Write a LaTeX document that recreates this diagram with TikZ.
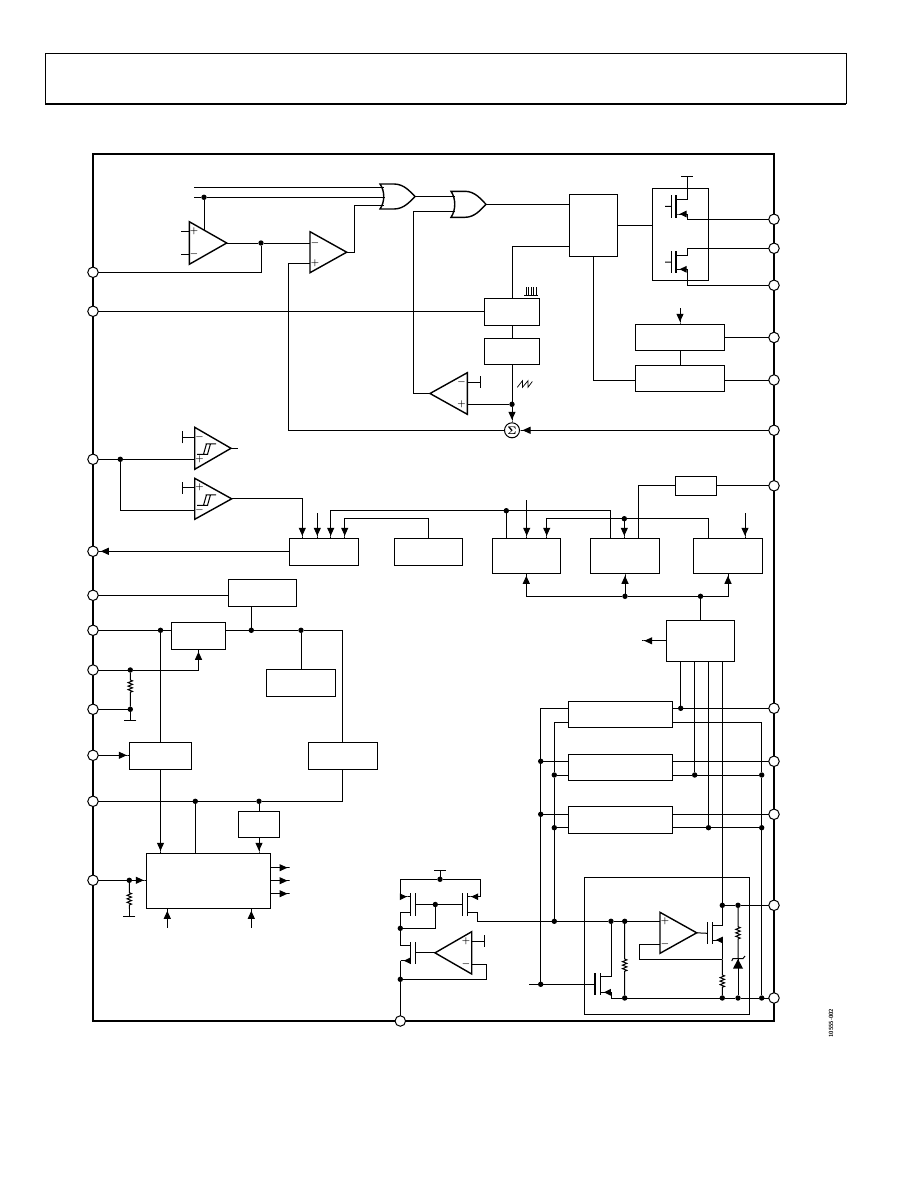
\documentclass[tikz,border=0pt]{standalone}
\usepackage{amsmath}
\usetikzlibrary{arrows.meta,decorations.pathmorphing}
\tikzset{
  wireline/.style={line width=1pt},
  frameline/.style={line width=2.2pt},
  arrowin/.style={-{Triangle[length=8pt,width=7pt,sep=0pt]Rectangle[length=2.5pt,width=1pt]}},
  fetarrow/.style={-{Triangle[length=7pt,width=6.5pt,sep=0pt]Rectangle[length=3.5pt,width=1pt]}},
  railend/.style={-{Bar[width=12pt,line width=1pt]}},
  blockbox/.style={draw,rectangle,line width=1.1pt,inner sep=0pt,outer sep=0pt},
  pinnode/.style={draw,circle,fill=white,line width=1pt,minimum size=10.5pt,inner sep=0pt,outer sep=0pt},
  dotnode/.style={circle,fill=black,minimum size=5.4pt,inner sep=0pt,outer sep=0pt},
  ampline/.style={line width=1.4pt,line join=miter},
  fetbar/.style={line width=1.1pt},
  orline/.style={line width=1.4pt},
  signnode/.style={inner sep=0pt,font=\fontsize{9}{9}\selectfont\boldmath},
}
\newcommand{\pBlock}[5]{\node[blockbox,anchor=north west,minimum width=#4pt,minimum height=#5pt] (#1) at (#2,#3) {};}
\newcommand{\pAmp}[8]{\draw[ampline] (#2,#3) -- (#2,#4) -- (#5,{(#3+#4)/2}) -- cycle;
\coordinate (#1O) at (#5,{(#3+#4)/2});
\coordinate (#1P) at (#2,#7);
\coordinate (#1M) at (#2,#8);
\node[signnode] (#1plus) at (#6,#7) {$+$};
\node[signnode] (#1minus) at (#6,#8) {$-$};}
\newcommand{\pFet}[7]{\draw[fetbar] (#2,#4) -- (#2,#5) (#3,#4) -- (#3,#5);
\coordinate (#1G) at (#2,{(#4+#5)/2});
\coordinate (#1D) at (#3,#6);
\coordinate (#1S) at (#3,#7);}
\newcommand{\pOr}[5]{\draw[orline] (#2,#3) .. controls ({#2+5},{#3+7}) and ({#2+5},{#4-7}) .. (#2,#4) -- ({#2+14},#4) .. controls ({#2+24},#4) and ({#5-5},{(#3+#4)/2+5}) .. (#5,{(#3+#4)/2}) .. controls ({#5-5},{(#3+#4)/2-5}) and ({#2+24},#3) .. ({#2+14},#3) -- cycle;
\coordinate (#1O) at (#5,{(#3+#4)/2});}
\newcommand{\pHyst}[2]{\draw[wireline] (#1,#2) -- ({#1+11},#2) ({#1+6.5},#2) -- ({#1+9.5},{#2-10.5}) ({#1+10.5},#2) -- ({#1+13.5},{#2-10.5}) ({#1+8.5},{#2-10.5}) -- ({#1+19},{#2-10.5});}
\newcommand{\pResWire}[4]{\draw[wireline] (#1) -- (#1 |- 0,#3) decorate[decoration={zigzag,segment length=3.5pt,amplitude=2.2pt}] {-- (#1 |- 0,#4)} -- (#2);}
\begin{document}
\begin{tikzpicture}[x=1pt,y=-1pt]
\useasboundingbox (0,0) rectangle (918,1188);
\draw[wireline] (45,104) -- (45,54) -- (846,54) -- (846,104);
\draw[frameline] (45,104) -- (846,104);
\draw[frameline] (93,154) rectangle (774,1021);
\node[pinnode] (pinAmp) at (93,272.3) {};
\node[pinnode] (pinRamp) at (93,311.3) {};
\node[pinnode] (pinHyst) at (93,459.3) {};
\node[pinnode] (pinFlag) at (93,551.3) {};
\node[pinnode] (pinRef) at (93,595.3) {};
\node[pinnode] (pinIn) at (93,630.3) {};
\node[pinnode] (pinEn) at (93,670) {};
\node[pinnode] (pinGa) at (93,709.3) {};
\node[pinnode] (pinSync) at (93,755.3) {};
\node[pinnode] (pinGnd) at (93,801.3) {};
\node[pinnode] (pinMode) at (93,880.3) {};
\node[pinnode] (pinVin) at (774,219.3) {};
\node[pinnode] (pinSw) at (774,248.3) {};
\node[pinnode] (pinPgnd) at (774,285.3) {};
\node[pinnode] (pinTop) at (774,337.5) {};
\node[pinnode] (pinSoft) at (774,380) {};
\node[pinnode] (pinSense) at (774,430.3) {};
\node[pinnode] (pinRes) at (774,485.8) {};
\node[pinnode] (pinLdoA) at (774,708.3) {};
\node[pinnode] (pinLdoB) at (774,761.3) {};
\node[pinnode] (pinLdoC) at (774,814.3) {};
\node[pinnode] (pinLdoOut) at (774,905.3) {};
\node[pinnode] (pinLdoGnd) at (774,998) {};
\node[pinnode] (pinBot) at (400.3,1021) {};
\pBlock{driverBox}{569.3}{194.3}{48.4}{62.4}
\pBlock{fetBox}{652.3}{188.3}{56.4}{92}
\pBlock{pulseBox}{484.5}{298.3}{55}{27}
\pBlock{clockBox}{484.5}{338.3}{55}{26}
\pBlock{softBox}{635.3}{324.3}{89.4}{26}
\pBlock{latchBox}{635.3}{365.3}{89.4}{26}
\pBlock{logicBox}{289.3}{538.3}{69}{27}
\pBlock{refBox}{394.3}{538.3}{68}{27}
\pBlock{chanC}{492.3}{538.3}{68}{35}
\pBlock{chanD}{590.3}{538.3}{69.4}{35}
\pBlock{chanE}{693.3}{538.3}{69.4}{35}
\pBlock{resBox}{675.3}{476.3}{41.4}{19}
\pBlock{seqBox}{666.3}{620.3}{68.4}{41}
\pBlock{regOne}{568.3}{701.3}{104.4}{26}
\pBlock{regTwo}{568.3}{754.3}{104.4}{26}
\pBlock{regThree}{568.3}{806.3}{104.4}{27}
\pBlock{ldoBox}{584.3}{877.3}{165.4}{137}
\pBlock{biasBox}{228.3}{579.3}{68}{27}
\pBlock{switchBox}{171.3}{622.3}{54.4}{27}
\pBlock{tempBox}{266.3}{669.3}{69.4}{27}
\pBlock{enBox}{129.3}{742.3}{62.4}{27}
\pBlock{auxBox}{308.3}{742.3}{69}{27}
\pBlock{smallBox}{238.3}{811.3}{41.4}{26}
\pBlock{ctrlBox}{146.3}{853.3}{124.4}{55}
\pOr{orA}{380}{184}{209}{415}
\pOr{orB}{451}{191.3}{217.3}{486}
\pAmp{ampA}{189.3}{221.7}{264.3}{226.7}{194}{231.7}{254.3}
\pAmp{ampB}{310}{231.7}{272.7}{346.7}{315}{263.5}{243}
\pAmp{ampC}{467.3}{372.7}{414.3}{430}{461.5}{404.3}{382.3}
\pAmp{ampD}{194.7}{427.3}{469.3}{231}{199.5}{459.3}{437.3}
\pAmp{ampE}{194.7}{478.3}{519.3}{231.7}{199.5}{487.7}{510.3}
\pAmp{ampF}{660}{912.3}{953.3}{696.7}{665}{921.3}{944.3}
\pAmp{ampG}{471.7}{931.7}{974}{435}{466}{941.3}{964.3}
\pHyst{197}{454.3}
\pHyst{197}{505.3}
\pFet{hiFet}{671.7}{676}{195}{217.7}{199.3}{214}
\pFet{loFet}{671.7}{676}{251}{273.3}{255}{269.3}
\pFet{ldoFet}{595}{600.3}{973.3}{995.3}{976.7}{992.3}
\pFet{passFet}{707.3}{712.3}{922.3}{944.3}{925}{940}
\pFet{mirL}{415.3}{410.3}{893.3}{915.7}{912.3}{896.7}
\pFet{mirR}{462.3}{467.7}{893.3}{915.7}{912.3}{896.7}
\pFet{errFet}{415.3}{410.3}{942}{963.7}{945.3}{960.7}
\node[draw,circle,fill=white,line width=1pt,minimum size=15pt,inner sep=0pt,font=\fontsize{11}{11}\selectfont\boldmath] (sumNode) at (512,430.3) {$\Sigma$};
\node[dotnode] (dotBusB) at (204,197.3) {};
\node[dotnode] (dotAmpA) at (261,243) {};
\node[dotnode] (dotRamp) at (512,404.3) {};
\node[dotnode] (dotHyst) at (120.3,459.3) {};
\node[dotnode] (dotBusC) at (506.3,510.7) {};
\node[dotnode] (dotBusD) at (624.3,518.7) {};
\node[dotnode] (dotChan) at (625,596.3) {};
\node[dotnode] (dotSeq) at (700.5,596.3) {};
\node[dotnode] (dotRegA) at (680.7,708.3) {};
\node[dotnode] (dotRegB) at (694.7,775) {};
\node[dotnode] (dotRegC) at (708.5,827.7) {};
\node[dotnode] (dotRtA) at (761.7,775) {};
\node[dotnode] (dotRtB) at (761.7,827.7) {};
\node[dotnode] (dotRtC) at (761.7,998) {};
\node[dotnode] (dotLa) at (540.7,761.3) {};
\node[dotnode] (dotLb) at (540.7,814.3) {};
\node[dotnode] (dotLc) at (540.7,984.3) {};
\node[dotnode] (dotMa) at (554.3,775) {};
\node[dotnode] (dotMb) at (554.3,827.7) {};
\node[dotnode] (dotMc) at (554.3,921.3) {};
\node[dotnode] (dotNa) at (611,921.3) {};
\node[dotnode] (dotNb) at (624.7,921.3) {};
\node[dotnode] (dotOa) at (624.7,998) {};
\node[dotnode] (dotOb) at (722.3,998) {};
\node[dotnode] (dotOc) at (738,998) {};
\node[dotnode] (dotOut) at (722.3,905.3) {};
\node[dotnode] (dotZen) at (738,905.3) {};
\node[dotnode] (dotIn) at (160.5,630.3) {};
\node[dotnode] (dotSw) at (251.3,630.3) {};
\node[dotnode] (dotTemp) at (301,630.3) {};
\node[dotnode] (dotEn) at (130.3,670) {};
\node[dotnode] (dotGa) at (130.3,709.3) {};
\node[dotnode] (dotGb) at (195.3,801.3) {};
\node[dotnode] (dotGc) at (259,801.3) {};
\node[dotnode] (dotMode) at (129.3,880.3) {};
\node[dotnode] (dotVdd) at (440,879.3) {};
\node[dotnode] (dotMir) at (435.3,904.5) {};
\node[dotnode] (dotTie) at (400.3,928.3) {};
\node[dotnode] (dotFb) at (400.3,979.3) {};
\coordinate (busA) at (194,187.3);
\coordinate (busB) at (194,197.3);
\coordinate (orAa) at (384,187.3);
\coordinate (orAb) at (384.5,197.3);
\coordinate (orAc) at (384,205.3);
\coordinate (orBa) at (455,196.5);
\coordinate (orBb) at (455,211.7);
\coordinate (ampAtap) at (204,230);
\coordinate (ampAstubP) at (181,231.7);
\coordinate (ampAstubM) at (181,254.3);
\coordinate (ampCrail) at (481,382.3);
\coordinate (ampDrail) at (181.7,437.3);
\coordinate (ampErail) at (181.7,487.7);
\coordinate (ampGrail) at (485.3,941.3);
\coordinate (ampDout) at (237.7,448.3);
\coordinate (hiStub) at (665,206.3);
\coordinate (loStub) at (665,262.2);
\coordinate (hiRail) at (687.3,176);
\coordinate (hiCorner) at (687.3,214);
\coordinate (loCorner) at (687.3,269.3);
\coordinate (softIn) at (680,308.3);
\coordinate (logicA) at (302.3,538.3);
\coordinate (logicBtop) at (317.3,513.3);
\coordinate (logicB) at (317.3,538.3);
\coordinate (logicC) at (330.7,538.3);
\coordinate (logicD) at (344.7,538.3);
\coordinate (chanCa) at (506.3,538.3);
\coordinate (chanCbtop) at (526.7,500);
\coordinate (chanCb) at (526.7,538.3);
\coordinate (chanCc) at (546.7,538.3);
\coordinate (chanDa) at (610.7,538.3);
\coordinate (chanDb) at (624.3,538.3);
\coordinate (chanDc) at (638.3,538.3);
\coordinate (chanEa) at (708.7,538.3);
\coordinate (chanEbtop) at (745,513.3);
\coordinate (chanEb) at (745,538.3);
\coordinate (seqOut) at (641.7,640.8);
\coordinate (seqA) at (680.7,661.3);
\coordinate (seqB) at (694.7,661.3);
\coordinate (seqC) at (708.5,661.3);
\coordinate (seqD) at (722.3,661.3);
\coordinate (regOneA) at (672.7,708.3);
\coordinate (regOneB) at (672.7,722.3);
\coordinate (regOneC) at (568.3,708.3);
\coordinate (regOneD) at (568.3,722.3);
\coordinate (regTwoB) at (672.7,775);
\coordinate (regThreeB) at (672.7,827.7);
\coordinate (ldoStub) at (529,984.3);
\coordinate (ldoCorner) at (611,992.3);
\coordinate (passCorner) at (722.3,940);
\coordinate (passTap) at (722.3,959.3);
\coordinate (zenTop) at (738,958.5);
\coordinate (ctrlA) at (160.5,853.3);
\coordinate (ctrlB) at (195.3,853.3);
\coordinate (railGa) at (130.3,721.3);
\coordinate (resModeEnd) at (129.3,909);
\coordinate (railMode) at (129.3,917.3);
\coordinate (ctrlOutA) at (290,867.7);
\coordinate (ctrlOutB) at (290,880.7);
\coordinate (ctrlOutC) at (290,893.7);
\coordinate (ctrlInA) at (167.3,927.7);
\coordinate (ctrlInAend) at (167.3,908.3);
\coordinate (ctrlInB) at (251.3,927.7);
\coordinate (ctrlInBend) at (251.3,908.3);
\coordinate (railVdd) at (440,870.3);
\coordinate (mirLcorner) at (400.3,896.7);
\coordinate (mirRcorner) at (480.7,896.7);
\coordinate (errCorner) at (400.3,960.7);
\draw[wireline] (busA) -- (orAa);
\draw[wireline] (busB) -- (dotBusB) -- (orAb);
\draw[wireline] (dotBusB) -- (ampAtap);
\draw[wireline] (ampAP) -- (ampAstubP);
\draw[wireline] (ampAM) -- (ampAstubM);
\draw[wireline] (ampAO) -- (dotAmpA) -- (ampBM);
\draw[wireline] (dotAmpA) |- (pinAmp);
\draw[wireline] (ampBO) -- ++(7.6,0) |- (orAc);
\draw[wireline] (ampBP) -- ++(-21.7,0) |- (sumNode);
\draw[wireline] (orAO) -- (orBa);
\draw[wireline] (orBb) -- ++(-41.3,0) |- (ampCO);
\draw[wireline] (orBO) -- (orBO -| driverBox.west);
\draw[wireline] (pinRamp) -- (pinRamp -| pulseBox.west);
\draw[wireline] (pulseBox.south) -- (clockBox.north);
\draw[wireline] (clockBox.south) -- (dotRamp);
\draw[wireline,arrowin] (dotRamp) -- (sumNode);
\draw[wireline,arrowin] (pinSense) -- (sumNode);
\draw[wireline] (ampCP) -- (dotRamp);
\draw[wireline,railend] (ampCM) -- (ampCrail);
\draw[wireline] (pulseBox.north) |- (driverBox.west |- 0,246.7);
\draw[wireline] (driverBox.east) -- (driverBox.east -| fetBox.west);
\draw[wireline] (hiFetG) -- (hiStub);
\draw[wireline] (loFetG) -- (loStub);
\draw[wireline,railend] (hiFetD) -| (hiRail);
\draw[wireline,fetarrow] (hiCorner) -- (hiFetS);
\draw[wireline] (hiCorner) |- (pinVin);
\draw[wireline] (loFetD) -- ++(11.3,0) |- (pinSw);
\draw[wireline,fetarrow] (loCorner) -- (loFetS);
\draw[wireline] (loCorner) |- (pinPgnd);
\draw[wireline,arrowin] (softIn) -- (softBox.north);
\draw[wireline] (softBox.south) -- (latchBox.north);
\draw[wireline] (pinTop -| softBox.east) -- (pinTop);
\draw[wireline] (pinSoft -| latchBox.east) -- (pinSoft);
\draw[wireline] (driverBox.south) |- (pinSoft -| latchBox.west);
\draw[wireline] (pinHyst) -- (dotHyst) -- (ampDP);
\draw[wireline] (dotHyst) |- (ampEM);
\draw[wireline] (ampDO) -- (ampDout);
\draw[wireline,railend] (ampDM) -- (ampDrail);
\draw[wireline,railend] (ampEP) -- (ampErail);
\draw[wireline,arrowin] (ampEO) -| (logicA);
\draw[wireline,arrowin] (logicBtop) -- (logicB);
\draw[wireline,arrowin] (dotBusC) -| (logicC);
\draw[wireline,arrowin] (refBox.north) -- ++(0,-20) -| (logicD);
\draw[wireline,arrowin] (pinFlag -| logicBox.west) -- (pinFlag);
\draw[wireline] (dotBusC) -- (chanCa);
\draw[wireline] (dotBusC) -| (chanDa);
\draw[wireline,arrowin] (chanCbtop) -- (chanCb);
\draw[wireline] (chanEa) |- (dotBusD);
\draw[wireline,arrowin] (dotBusD) -| (chanCc);
\draw[wireline,arrowin] (dotBusD) -- (chanDb);
\draw[wireline,arrowin] (chanEbtop) -- (chanEb);
\draw[wireline] (chanDc) |- (resBox.west);
\draw[wireline] (pinRes -| resBox.east) -- (pinRes);
\draw[wireline,arrowin] (dotChan) -| (chanC.south);
\draw[wireline,arrowin] (dotChan) -- (chanD.south);
\draw[wireline] (dotChan) -- (dotSeq);
\draw[wireline,arrowin] (dotSeq) -| (chanE.south);
\draw[wireline] (seqBox.north) -- (dotSeq);
\draw[wireline,arrowin] (seqBox.west) -- (seqOut);
\draw[wireline] (seqA) -- (dotRegA);
\draw[wireline] (seqB) -- (dotRegB);
\draw[wireline] (seqC) -- (dotRegC);
\draw[wireline] (seqD) -- (dotOut);
\draw[wireline] (regOneA) -- (dotRegA) -- (pinLdoA);
\draw[wireline] (regOneB) -| (dotRtA) -- (dotRtB) -- (dotRtC);
\draw[wireline] (regTwoB) -- (dotRegB) -- (dotRtA);
\draw[wireline] (regThreeB) -- (dotRegC) -- (dotRtB);
\draw[wireline] (pinLdoB -| regTwo.east) -- (pinLdoB);
\draw[wireline] (pinLdoC -| regThree.east) -- (pinLdoC);
\draw[wireline] (regOneC) -| (dotLa) -- (dotLb) -- (dotLc);
\draw[wireline] (dotLa) -- (dotLa -| regTwo.west);
\draw[wireline] (dotLb) -- (dotLb -| regThree.west);
\draw[wireline] (regOneD) -| (dotMa) -- (dotMb) -- (dotMc);
\draw[wireline] (dotMa) -- (dotMa -| regTwo.west);
\draw[wireline] (dotMb) -- (dotMb -| regThree.west);
\draw[wireline] (ldoStub) -- (dotLc) -- (ldoFetG);
\draw[wireline] (dotMc) -- (dotNa) -- (dotNb) -- (ampFP);
\draw[wireline] (ldoFetD) -| (dotNa);
\draw[wireline,fetarrow] (ldoCorner) -- (ldoFetS);
\draw[wireline] (ldoCorner) |- (dotOa) -- (dotOb) -- (dotOc) -- (dotRtC) -- (pinLdoGnd);
\pResWire{dotNb}{dotOa}{959}{972.7}
\draw[wireline] (ampFO) -- (passFetG);
\draw[wireline] (passFetD) -| (dotOut);
\draw[wireline,fetarrow] (passCorner) -- (passFetS);
\draw[wireline] (passCorner) -- (passTap);
\draw[wireline] (ampFM) -- ++(-20.7,0) |- (passTap);
\pResWire{passTap}{dotOb}{975}{988}
\draw[wireline] (dotOut) -- (dotZen) -- (pinLdoOut);
\pResWire{dotZen}{zenTop}{926.7}{940}
\draw[wireline] (zenTop) -- (dotOc);
\draw[wireline] (731.7,961) -- (733,958.5) -- (743,958.5) -- (745,956);
\fill (738,959) -- (743,968.5) -- (733,968.5) -- cycle;
\draw[wireline] (pinRef) -- (pinRef -| biasBox.west);
\draw[wireline] (pinIn) -- (dotIn) -- (dotIn -| switchBox.west);
\draw[wireline] (switchBox.east |- dotSw) -- (dotSw) -- (dotTemp);
\draw[wireline] (dotSw) -- (dotSw |- biasBox.south);
\draw[wireline] (dotTemp) -- (tempBox.north);
\draw[wireline] (dotTemp) -| (auxBox.north);
\draw[wireline] (dotIn) -- (enBox.north);
\draw[wireline,arrowin] (enBox.south) -- (ctrlA);
\draw[wireline,arrowin] (pinSync) -- (pinSync -| enBox.west);
\draw[wireline] (pinGnd) -- (dotGb) -- (dotGc);
\draw[wireline] (dotGc) -| (auxBox.south);
\draw[wireline] (dotGb) -- (ctrlB);
\draw[wireline] (dotGc) -- (smallBox.north);
\draw[wireline,arrowin] (smallBox.south) -- (smallBox.south |- ctrlBox.north);
\draw[wireline] (pinEn) -- (dotEn);
\draw[wireline,arrowin] (dotEn) -| (switchBox.south);
\pResWire{dotEn}{dotGa}{680}{693}
\draw[wireline] (pinGa) -- (dotGa);
\draw[wireline,railend] (dotGa) -- (railGa);
\draw[wireline] (pinMode) -- (dotMode);
\draw[wireline,arrowin] (dotMode) -- (dotMode -| ctrlBox.west);
\pResWire{dotMode}{resModeEnd}{892.7}{905}
\draw[wireline,railend] (resModeEnd) -- (railMode);
\draw[wireline,arrowin] (ctrlBox.east |- ctrlOutA) -- (ctrlOutA);
\draw[wireline,arrowin] (ctrlBox.east |- ctrlOutB) -- (ctrlOutB);
\draw[wireline,arrowin] (ctrlBox.east |- ctrlOutC) -- (ctrlOutC);
\draw[wireline,arrowin] (ctrlInA) -- (ctrlInAend);
\draw[wireline,arrowin] (ctrlInB) -- (ctrlInBend);
\draw[wireline,railend] (dotVdd) -- (railVdd);
\draw[wireline] (mirLcorner) |- (dotVdd) -| (mirRcorner);
\draw[wireline,fetarrow] (mirLcorner) -- (mirLS);
\draw[wireline,fetarrow] (mirRcorner) -- (mirRS);
\draw[wireline] (mirLG) -- (dotMir) -- (mirRG);
\draw[wireline] (dotMir) |- (dotTie);
\draw[wireline] (mirLD) -| (dotTie);
\draw[wireline] (dotTie) |- (errFetD);
\draw[wireline] (ampGO) -- (errFetG);
\draw[wireline,railend] (ampGP) -- (ampGrail);
\draw[wireline] (ampGM) -- ++(14.6,0) |- (dotFb);
\draw[wireline,fetarrow] (errFetS) -- (errCorner);
\draw[wireline] (errCorner) -- (dotFb) -- (pinBot);
\draw[wireline] (mirRD) -- ++(10,0) |- (dotMc);
\draw[line width=0.7pt] (517.3,387.3) -- (522.5,380.7) -- (522.5,387.3) -- (528,380.7) -- (528,387.3) -- (532.3,381.5);
\draw[line width=0.7pt] (524,295) -- (538,295) (526,295) -- (526,287.3) (528.5,295) -- (528.5,287.3) (531,295) -- (531,287.3) (533.5,295) -- (533.5,287.3) (536,295) -- (536,287.3);
\node[rotate=90,inner sep=0pt,font=\sffamily\bfseries\fontsize{6}{6}\selectfont] (figTag) at (831,1023) {10555-002};
\end{tikzpicture}
\end{document}
